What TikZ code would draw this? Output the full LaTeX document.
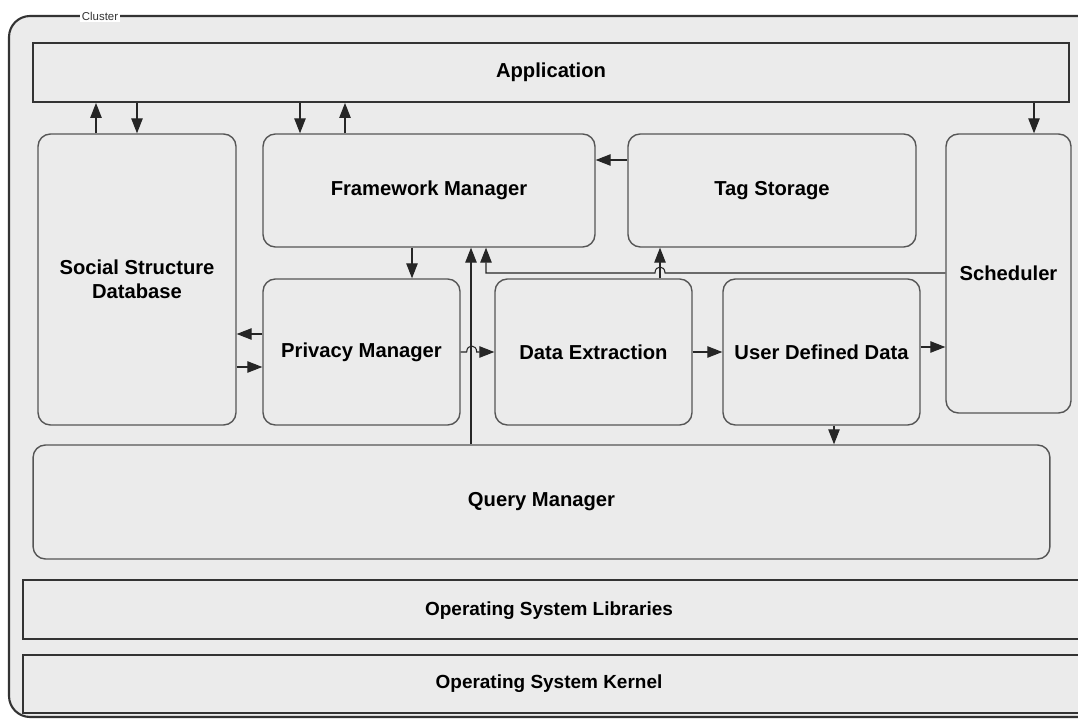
\documentclass[tikz,border=0pt]{standalone}
\usepackage{xcolor}
\usepackage{fontspec}
\setmainfont{Liberation Sans}
\usepackage{tikz}
\usetikzlibrary{positioning, arrows.meta, calc}
\definecolor{panelgray}{RGB}{235,235,235}
\definecolor{edgegray}{RGB}{85,85,85}

\begin{document}
\begin{tikzpicture}[x=0.02cm, y=-0.02cm,
		box/.style={draw=edgegray, line width=0.8pt, fill=panelgray, rounded corners=7pt, align=center, inner sep=0pt, font=\fontsize{11.5}{13.5}\selectfont\bfseries},
		layer/.style={draw=black!80, line width=1.1pt, fill=panelgray, inner sep=0pt, font=\fontsize{11.5}{13.5}\selectfont\bfseries},
		arr/.style={-{Triangle[length=8.5pt,width=6.5pt]}, line width=0.6pt, draw=black!85}]
				\clip (0,0) rectangle (1078,719);
				\draw [line width=1.2pt, draw=black!80, fill=panelgray, rounded corners=12pt] (9,16) rectangle (1120,717);
				\node [fill=white, inner sep=1pt, text=black!80, font=\fontsize{6.5}{7}\selectfont] (clusterlbl) at (100,16) {Cluster};
				
				\node [layer, minimum width=20.72cm, minimum height=1.18cm] (app) at (551,72.5) {Application};
				\node [box, minimum width=3.96cm, minimum height=5.82cm] (ssd) at (137,279.5) {Social Structure\\Database};
				\node [box, minimum width=6.64cm, minimum height=2.26cm] (fm) at (429,190.5) {Framework Manager};
				\node [box, minimum width=5.76cm, minimum height=2.26cm] (ts) at (772,190.5) {Tag Storage};
				\node [box, minimum width=2.5cm, minimum height=5.58cm] (sch) at (1008.5,273.5) {Scheduler};
				\node [box, minimum width=3.94cm, minimum height=2.92cm] (pm) at (361.5,352) {Privacy Manager};
				\node [box, minimum width=3.94cm, minimum height=2.92cm] (de) at (593.5,352) {Data Extraction};
				\node [box, minimum width=3.94cm, minimum height=2.92cm] (udd) at (821.5,352) {User Defined Data};
				\node [box, minimum width=20.34cm, minimum height=2.28cm] (qm) at (541.5,502) {Query Manager};
				\node [layer, minimum width=21.4cm, minimum height=1.18cm] (osl) at (558,609.5) {};
				\node [font=\fontsize{10.8}{13}\selectfont\bfseries] (osltext) at (549,611) {Operating System Libraries};
				\node [layer, minimum width=21.4cm, minimum height=1.16cm] (osk) at (558,684) {};
				\node [font=\fontsize{10.8}{13}\selectfont\bfseries] (osktext) at (549,684) {Operating System Kernel};
				
				\draw [arr] (96,0 |- ssd.north) -- (96,0 |- app.south);
				\draw [arr] (137,0 |- app.south) -- (137,0 |- ssd.north);
				\draw [arr] (300,0 |- app.south) -- (300,0 |- fm.north);
				\draw [arr] (345,0 |- fm.north) -- (345,0 |- app.south);
				\draw [arr] (1034,0 |- app.south) -- (1034,0 |- sch.north);
				\draw [arr] (ts.west |- 0,160) -- (fm.east |- 0,160);
				\draw [arr] (412,0 |- fm.south) -- (412,0 |- pm.north);
				\draw [arr] (471,0 |- qm.north) -- (471,0 |- fm.south);
				\draw [arr] (sch.west |- 0,273) -- (665,273) .. controls (665,265) and (655,265) .. (655,273) -- (486,273) -- (486,0 |- fm.south);
				\draw [arr] (660,0 |- de.north) -- (660,0 |- ts.south);
				\draw [arr] (pm.east) -- ++(6,0) .. controls +(0,-8) and +(0,-8) .. ++(10,0) -- (de.west);
				\draw [arr] (pm.west |- 0,334) -- (ssd.east |- 0,334);
				\draw [arr] (ssd.east |- 0,367) -- (pm.west |- 0,367);
				\draw [arr] (de.east) -- (udd.west);
				\draw [arr] (udd.east |- 0,347) -- (sch.west |- 0,347);
				\draw [arr] (834,0 |- udd.south) -- (834,0 |- qm.north);
\end{tikzpicture}
\end{document}
